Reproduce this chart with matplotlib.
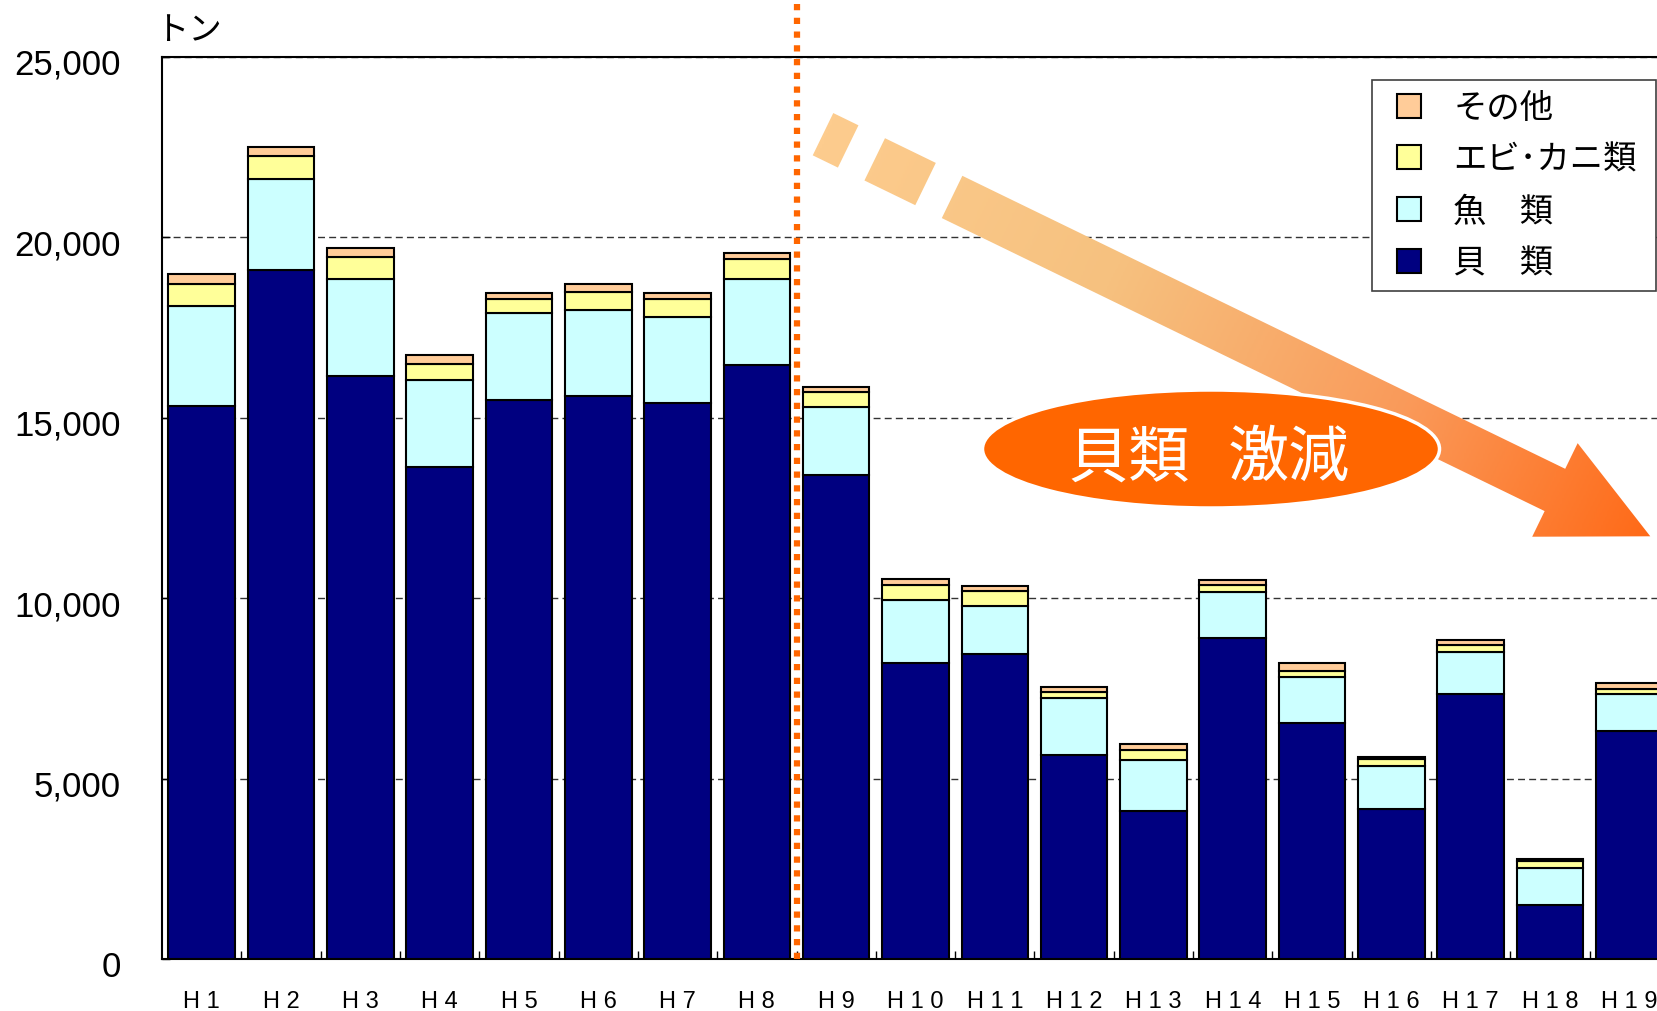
import matplotlib
matplotlib.use("Agg")
import matplotlib.pyplot as plt
import numpy as np
from matplotlib.patches import Ellipse, PathPatch, Rectangle
from matplotlib.path import Path
from matplotlib.colors import LinearSegmentedColormap
from matplotlib.ticker import FuncFormatter
from matplotlib.transforms import ScaledTranslation
from matplotlib.legend_handler import HandlerPatch, update_from_first_child
from matplotlib.container import BarContainer

# data (トン)
years = ["H1", "H2", "H3", "H4", "H5", "H6", "H7", "H8", "H9", "H10",
         "H11", "H12", "H13", "H14", "H15", "H16", "H17", "H18", "H19"]
kai = [15330, 19090, 16140, 13640, 15490, 15590, 15390, 16450, 13420, 8210,
       8450, 5650, 4110, 8890, 6550, 4160, 7350, 1490, 6305]
sakana = [2750, 2510, 2700, 2390, 2400, 2400, 2400, 2390, 1865, 1725,
          1330, 1580, 1390, 1275, 1255, 1175, 1155, 1035, 1025]
ebikani = [605, 630, 595, 455, 390, 500, 495, 550, 415, 435,
           405, 160, 300, 205, 185, 195, 205, 200, 155]
sonota = [300, 260, 270, 260, 170, 215, 165, 160, 140, 155,
          140, 150, 155, 120, 200, 60, 130, 55, 150]

series_names = ["貝　類", "魚　類", "エビ･カニ類", "その他"]
series_colors = ["#000080", "#CCFFFF", "#FFFF99", "#FFCC99"]

plt.rcParams['font.family'] = ['Liberation Sans', 'Noto Sans CJK JP', 'DejaVu Sans']

W, H = 1658, 1012
fig = plt.figure(figsize=(W / 100, H / 100), dpi=100)
ax = fig.add_axes([162 / W, 52 / H, 1507 / W, 902.5 / H])

x = np.arange(len(years))
bottom = np.zeros(len(years))
bars = []
for vals, name, col in zip([kai, sakana, ebikani, sonota], series_names, series_colors):
    b = ax.bar(x, vals, 0.84, bottom=bottom, color=col, edgecolor='black',
               linewidth=1.5, label=name, zorder=3)
    bars.append(b)
    bottom = bottom + np.array(vals)

ax.set_xlim(-0.5, len(years) - 0.5)
ax.set_ylim(0, 25000)
ax.set_yticks(range(0, 25001, 5000))
ax.yaxis.set_major_formatter(FuncFormatter(lambda v, p: f"{v:,.0f}"))
ax.yaxis.grid(True, linestyle=(0, (5, 3)), color='#333333', linewidth=1.0, zorder=0)
ax.set_axisbelow(True)

ax.set_xticks(x)
ax.set_xticklabels([" ".join(y) for y in years], fontsize=17)
ax.set_xticks(np.arange(0.5, len(years) - 1, 1), minor=True)
ax.tick_params(axis='x', which='major', length=0, pad=22)
ax.tick_params(axis='x', which='minor', direction='in', length=6, width=1)
ax.tick_params(axis='y', direction='in', length=6, width=1, pad=29.5, labelsize=25)
shift = ScaledTranslation(0, -0.045, fig.dpi_scale_trans)
for lab in ax.get_yticklabels():
    lab.set_transform(lab.get_transform() + shift)

ax.spines['right'].set_visible(False)
for s in ['left', 'bottom', 'top']:
    ax.spines[s].set_linewidth(1.5)

# 区切り線 (H8/H9)
ax.axvline(7.5, ymin=0, ymax=1 + 57.7 / 902.5, color='#FF6600', lw=4.5,
           linestyle=(0, (1, 1.2)), clip_on=False, zorder=4)


def square_handle(legend, orig_handle, xdescent, ydescent, width, height, fontsize):
    sq = 0.72 * fontsize
    return Rectangle((-xdescent + width - sq, -ydescent + (height - sq) / 2), sq, sq)


fs_leg = 24
leg_h = 208
leg = ax.legend(handles=bars[::-1], loc='upper left', mode='expand',
                bbox_to_anchor=(1372.5 / W, 1 - (80.5 + leg_h) / H, 283.5 / W, leg_h / H),
                bbox_transform=fig.transFigure,
                prop={'family': 'Noto Sans CJK JP', 'size': fs_leg},
                frameon=True, fancybox=False, edgecolor='#404040', framealpha=1,
                borderaxespad=0, handlelength=1.14, handleheight=0.72,
                handletextpad=0.97, labelspacing=0.5, borderpad=0.32,
                handler_map={BarContainer: HandlerPatch(patch_func=square_handle,
                                                        update_func=update_from_first_child)})
leg.get_frame().set_linewidth(1.2)

# overlay in pixel coords for the arrow / ellipse annotation
ov = fig.add_axes([0, 0, 1, 1], zorder=5)
ov.patch.set_alpha(0)
ov.axis('off')

c0 = np.array([823.0, 135.2])
u = np.array([0.8995, 0.4372])
n = np.array([-0.4372, 0.8995])
hw, head_hw = 23.5, 52.0
s_head, s_tip = 813.7, 919.7


def pt(s, d):
    return c0 + s * u + d * n


def bar_piece(s1, s2):
    return [pt(s1, -hw), pt(s2, -hw), pt(s2, hw), pt(s1, hw), pt(s1, -hw)]


pieces = [bar_piece(0, 28), bar_piece(57.5, 114),
          [pt(143.5, -hw), pt(s_head, -hw), pt(s_head, -head_hw), pt(s_tip, 0),
           pt(s_head, head_hw), pt(s_head, hw), pt(143.5, hw), pt(143.5, -hw)]]
verts, codes = [], []
for p in pieces:
    verts += p
    codes += [Path.MOVETO] + [Path.LINETO] * (len(p) - 2) + [Path.CLOSEPOLY]
arrow_path = Path(verts, codes)
clip = PathPatch(arrow_path, transform=ov.transData, fc='none', ec='none')
ov.add_patch(clip)

gx = np.linspace(790, 1660, 400)
gy = np.linspace(95, 560, 220)
GX, GY = np.meshgrid(gx, gy)
t = ((GX - c0[0]) * u[0] + (GY - c0[1]) * u[1]) / s_tip
cmap = LinearSegmentedColormap.from_list(
    "arr", [(0, "#FDCC8E"), (0.35, "#F6C17F"), (0.7, "#FA9A5A"), (1, "#FF6A18")])
im = ov.imshow(t, extent=(790, 1660, 560, 95), cmap=cmap, vmin=0, vmax=1,
               aspect='auto', interpolation='bilinear')
im.set_clip_path(clip)

ov.add_patch(Ellipse((1211, 450), 457, 118, fc='#FF6600', ec='white', lw=2.5, zorder=6))
ov.text(1129, 459, "貝類", color='white', fontsize=44, family='Noto Sans CJK JP',
        ha='center', va='center', zorder=7)
ov.text(1288.5, 459, "激減", color='white', fontsize=44, family='Noto Sans CJK JP',
        ha='center', va='center', zorder=7)

ov.text(155, 30, "トン", fontsize=24, family='Noto Sans CJK JP', ha='left', va='center')

ov.set_xlim(0, W)
ov.set_ylim(H, 0)

fig.savefig("out.png", dpi=100)
